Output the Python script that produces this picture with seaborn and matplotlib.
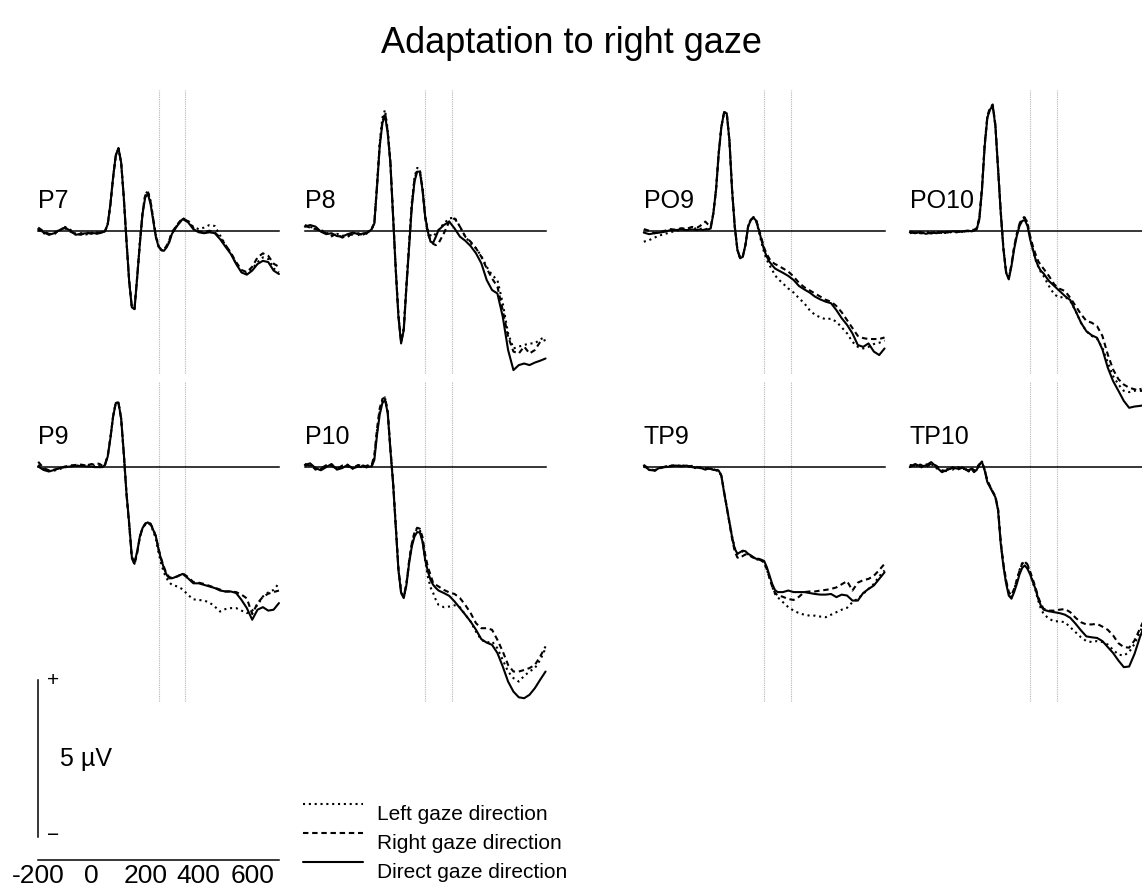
import numpy as np
import pandas as pd
import matplotlib
matplotlib.use("Agg")
import matplotlib.pyplot as plt
import matplotlib.transforms as mtransforms
from matplotlib.lines import Line2D
import seaborn as sns

# --- data: grand-average ERPs (µV) ---
times = [-200, -180, -160, -140, -120, -100, -80, -60, -40, -20, 0,
         10, 20, 30, 40, 50, 60, 70, 80, 90, 100,
         110, 120, 130, 140, 150, 160, 170, 180, 190, 200,
         210, 220, 230, 240, 250, 260, 270, 280, 290, 300,
         320, 340, 360, 380, 400, 420, 440, 460, 480, 500,
         520, 540, 560, 580, 600, 620, 640, 660, 680, 700]

conditions = ["Left gaze direction", "Right gaze direction", "Direct gaze direction"]
window_ms = [250, 350]

p7_left = [0.02, -0.08, -0.12, -0.05, 0.00, 0.12, 0.03, -0.10, -0.08, -0.12, -0.06,
           -0.10, -0.05, -0.10, -0.04, -0.03, 0.22, 0.86, 1.70, 2.40, 2.62,
           2.16, 1.04, -0.34, -1.60, -2.43, -2.49, -1.47, -0.38, 0.58, 1.15,
           1.27, 0.95, 0.38, -0.15, -0.48, -0.62, -0.63, -0.50, -0.32, -0.06,
           0.18, 0.40, 0.32, 0.12, 0.05, 0.10, 0.18, 0.15, -0.15, -0.45,
           -0.72, -1.05, -1.30, -1.36, -1.22, -1.00, -0.85, -0.90, -1.20, -1.33]
p7_right = [0.10, -0.02, -0.10, -0.12, 0.05, 0.08, -0.03, -0.10, -0.13, -0.05, -0.10,
            -0.06, -0.10, -0.05, -0.08, 0.00, 0.20, 0.83, 1.68, 2.38, 2.62,
            2.18, 1.06, -0.30, -1.58, -2.42, -2.48, -1.48, -0.40, 0.56, 1.12,
            1.25, 0.92, 0.38, -0.18, -0.50, -0.60, -0.60, -0.48, -0.30, -0.05,
            0.20, 0.40, 0.30, 0.08, -0.02, -0.05, 0.00, -0.05, -0.22, -0.45,
            -0.70, -1.00, -1.25, -1.32, -1.15, -0.85, -0.72, -0.80, -1.05, -1.15]
p7_direct = [0.05, -0.05, -0.13, -0.08, 0.02, 0.10, 0.00, -0.13, -0.10, -0.08, -0.08,
             -0.08, -0.08, -0.08, -0.05, -0.02, 0.21, 0.85, 1.70, 2.40, 2.63,
             2.18, 1.06, -0.32, -1.60, -2.44, -2.50, -1.49, -0.42, 0.53, 1.06,
             1.17, 0.85, 0.32, -0.21, -0.51, -0.62, -0.64, -0.53, -0.37, -0.10,
             0.16, 0.37, 0.27, 0.05, -0.05, -0.08, -0.05, -0.08, -0.27, -0.51,
             -0.74, -1.06, -1.33, -1.40, -1.27, -1.06, -0.96, -1.00, -1.27, -1.38]

p8_left = [0.18, 0.12, 0.08, 0.02, -0.05, -0.18, -0.10, -0.15, -0.20, -0.08, -0.14,
           -0.08, -0.12, -0.06, -0.02, 0.04, 0.26, 1.48, 2.80, 3.60, 3.85,
           3.20, 2.20, 0.50, -1.20, -2.68, -3.52, -3.10, -1.70, -0.40, 0.90,
           1.70, 2.00, 1.95, 1.38, 0.48, 0.02, -0.15, -0.19, -0.08, 0.02,
           0.23, 0.39, 0.42, 0.13, -0.19, -0.40, -0.56, -0.81, -1.15, -1.41,
           -1.57, -2.31, -3.27, -3.75, -3.69, -3.64, -3.59, -3.59, -3.46, -3.38]
p8_right = [0.15, 0.10, 0.05, 0.00, -0.08, -0.15, -0.12, -0.22, -0.15, -0.12, -0.08,
            -0.12, -0.05, -0.10, 0.00, 0.06, 0.25, 1.45, 2.72, 3.48, 3.74,
            3.15, 2.18, 0.48, -1.22, -2.70, -3.55, -3.12, -1.74, -0.46, 0.82,
            1.62, 1.93, 1.90, 1.35, 0.42, -0.10, -0.30, -0.42, -0.46, -0.40,
            -0.08, 0.29, 0.39, 0.13, -0.19, -0.35, -0.56, -0.83, -1.20, -1.52,
            -1.78, -2.53, -3.38, -3.85, -3.91, -3.69, -3.91, -3.80, -3.54, -3.48]
p8_direct = [0.13, 0.18, 0.13, -0.03, -0.11, -0.08, -0.17, -0.19, -0.11, -0.06, -0.11,
             -0.11, -0.08, -0.08, -0.03, 0.05, 0.23, 1.40, 2.68, 3.42, 3.68,
             3.10, 2.14, 0.45, -1.25, -2.74, -3.59, -3.16, -1.78, -0.51, 0.76,
             1.56, 1.88, 1.88, 1.30, 0.45, -0.03, -0.35, -0.38, -0.19, 0.02,
             0.18, 0.29, 0.07, -0.19, -0.32, -0.49, -0.72, -1.04, -1.57, -1.89,
             -2.00, -2.74, -3.80, -4.44, -4.28, -4.23, -4.28, -4.20, -4.14, -4.07]

po9_left = [-0.35, -0.30, -0.22, -0.15, -0.10, -0.05, 0.00, 0.02, 0.06, 0.05, 0.08,
            0.05, 0.08, 0.05, 0.06, 0.08, 0.56, 1.32, 2.48, 3.33, 3.78,
            3.75, 2.90, 1.32, 0.14, -0.61, -0.87, -0.82, -0.45, 0.14, 0.36,
            0.43, 0.32, -0.02, -0.38, -0.70, -0.93, -1.10, -1.25, -1.41, -1.52,
            -1.68, -1.84, -1.97, -2.15, -2.31, -2.53, -2.68, -2.76, -2.82, -2.80,
            -2.90, -3.08, -3.27, -3.54, -3.70, -3.75, -3.70, -3.61, -3.57, -3.50]
po9_right = [0.05, 0.00, -0.08, -0.04, 0.00, 0.05, 0.03, 0.08, 0.06, 0.12, 0.10,
             0.15, 0.22, 0.29, 0.20, 0.12, 0.55, 1.30, 2.45, 3.30, 3.76,
             3.74, 2.88, 1.30, 0.15, -0.60, -0.86, -0.82, -0.45, 0.14, 0.35,
             0.43, 0.35, 0.05, -0.25, -0.55, -0.75, -0.90, -1.00, -1.06, -1.10,
             -1.20, -1.30, -1.46, -1.66, -1.80, -1.90, -2.00, -2.10, -2.20, -2.26,
             -2.40, -2.60, -2.85, -3.10, -3.35, -3.42, -3.45, -3.45, -3.45, -3.40]
po9_direct = [-0.06, -0.11, -0.08, -0.06, -0.03, 0.02, 0.02, 0.04, 0.02, 0.04, 0.02,
              0.04, 0.02, 0.04, 0.04, 0.07, 0.55, 1.30, 2.46, 3.31, 3.76,
              3.74, 2.89, 1.30, 0.13, -0.62, -0.88, -0.83, -0.46, 0.13, 0.34,
              0.41, 0.32, 0.02, -0.30, -0.62, -0.83, -0.99, -1.10, -1.20, -1.25,
              -1.34, -1.44, -1.57, -1.76, -1.87, -1.97, -2.10, -2.19, -2.26, -2.31,
              -2.53, -2.79, -3.00, -3.27, -3.64, -3.70, -3.59, -3.85, -3.96, -3.75]

po10_left = [-0.08, -0.04, -0.09, -0.06, -0.03, -0.07, -0.05, -0.08, -0.03, -0.06, -0.03,
             -0.04, 0.02, -0.03, 0.02, 0.05, 0.38, 1.35, 2.72, 3.62, 3.88,
             3.98, 3.34, 1.96, 0.58, -0.58, -1.32, -1.52, -1.10, -0.55, -0.12,
             0.20, 0.38, 0.45, 0.25, -0.22, -0.62, -0.92, -1.13, -1.32, -1.44,
             -1.76, -2.03, -2.13, -2.10, -2.24, -2.56, -2.93, -3.20, -3.35, -3.44,
             -3.73, -4.20, -4.63, -4.90, -5.10, -5.14, -5.10, -5.05, -5.00, -5.00]
po10_right = [-0.03, -0.06, -0.08, -0.05, -0.09, -0.04, -0.07, -0.03, -0.05, -0.02, -0.04,
              0.00, -0.02, 0.02, 0.03, 0.08, 0.42, 1.40, 2.78, 3.66, 3.92,
              4.02, 3.38, 2.00, 0.62, -0.55, -1.30, -1.50, -1.08, -0.52, -0.10,
              0.22, 0.38, 0.42, 0.22, -0.18, -0.49, -0.75, -0.97, -1.10, -1.21,
              -1.44, -1.71, -1.85, -1.92, -2.14, -2.40, -2.66, -2.87, -2.93, -3.04,
              -3.35, -3.94, -4.42, -4.73, -4.90, -5.00, -5.05, -5.10, -5.10, -5.10]
po10_direct = [-0.05, -0.08, -0.04, -0.10, -0.06, -0.08, -0.04, -0.06, -0.02, -0.04, -0.02,
               -0.02, 0.00, -0.02, 0.00, 0.04, 0.36, 1.32, 2.70, 3.60, 3.86,
               3.97, 3.33, 1.95, 0.57, -0.59, -1.34, -1.55, -1.13, -0.59, -0.17,
               0.15, 0.31, 0.34, 0.15, -0.28, -0.59, -0.91, -1.13, -1.28, -1.36,
               -1.60, -1.76, -1.92, -2.08, -2.21, -2.56, -2.93, -3.20, -3.33, -3.41,
               -3.78, -4.36, -4.79, -5.10, -5.42, -5.64, -5.60, -5.58, -5.55, -5.50]

p9_left = [0.05, -0.08, -0.14, -0.13, -0.08, -0.03, 0.02, 0.04, 0.00, 0.06, 0.04,
           0.00, 0.06, 0.02, 0.05, 0.06, 0.33, 0.91, 1.60, 2.03, 2.03,
           1.53, 0.41, -0.86, -1.82, -2.90, -3.10, -2.72, -2.24, -1.97, -1.85,
           -1.80, -1.86, -2.06, -2.30, -2.75, -3.10, -3.38, -3.56, -3.69, -3.77,
           -3.82, -3.91, -4.09, -4.23, -4.25, -4.27, -4.33, -4.46, -4.62, -4.54,
           -4.51, -4.51, -4.59, -4.67, -4.59, -4.41, -4.14, -4.01, -3.93, -3.72]
p9_right = [0.15, -0.05, -0.12, -0.10, -0.06, 0.00, 0.03, 0.05, 0.06, 0.03, 0.08,
            0.05, 0.10, 0.08, 0.02, 0.08, 0.35, 0.92, 1.60, 2.02, 2.02,
            1.52, 0.40, -0.88, -1.85, -2.92, -3.12, -2.75, -2.25, -1.96, -1.82,
            -1.76, -1.82, -2.00, -2.22, -2.62, -2.94, -3.20, -3.42, -3.52, -3.55,
            -3.50, -3.40, -3.52, -3.68, -3.70, -3.74, -3.80, -3.86, -3.92, -3.98,
            -3.98, -4.00, -4.08, -4.20, -4.70, -4.35, -4.15, -4.05, -4.00, -3.95]
p9_direct = [0.00, -0.11, -0.16, -0.11, -0.05, -0.02, 0.00, 0.02, 0.02, 0.00, 0.00,
             -0.02, -0.02, -0.02, -0.02, 0.05, 0.32, 0.90, 1.59, 2.02, 2.04,
             1.54, 0.42, -0.85, -1.80, -2.87, -3.06, -2.71, -2.23, -1.96, -1.83,
             -1.78, -1.83, -2.02, -2.23, -2.65, -2.97, -3.24, -3.45, -3.56, -3.56,
             -3.50, -3.42, -3.56, -3.72, -3.72, -3.77, -3.82, -3.87, -3.95, -3.98,
             -3.98, -4.03, -4.25, -4.51, -4.88, -4.56, -4.48, -4.59, -4.56, -4.35]

p10_left = [0.02, 0.06, -0.10, -0.08, 0.02, 0.05, -0.06, -0.02, 0.06, -0.08, 0.02,
            0.00, 0.04, -0.02, 0.03, 0.02, 0.28, 1.10, 1.75, 2.10, 2.18,
            1.72, 0.55, -0.52, -1.90, -3.28, -4.00, -4.17, -3.75, -3.05, -2.48,
            -2.12, -1.98, -2.02, -2.35, -3.00, -3.50, -3.85, -4.03, -4.25, -4.41,
            -4.48, -4.46, -4.42, -4.48, -4.72, -4.94, -5.26, -5.52, -5.61, -5.57,
            -5.79, -6.16, -6.53, -6.74, -6.85, -6.67, -6.53, -6.42, -6.16, -5.79]
p10_right = [0.08, 0.02, -0.08, -0.06, 0.04, 0.02, -0.08, 0.03, 0.00, -0.04, 0.05,
             0.02, -0.02, 0.02, 0.05, 0.05, 0.35, 1.20, 1.85, 2.15, 2.20,
             1.75, 0.58, -0.50, -1.88, -3.25, -3.98, -4.15, -3.72, -3.00, -2.45,
             -2.10, -1.95, -1.98, -2.25, -2.80, -3.20, -3.45, -3.72, -3.77, -3.82,
             -3.93, -4.01, -4.06, -4.19, -4.41, -4.67, -4.99, -5.15, -5.15, -5.20,
             -5.52, -5.89, -6.32, -6.53, -6.53, -6.48, -6.42, -6.32, -6.05, -5.73]
p10_direct = [0.05, 0.10, -0.05, -0.12, -0.02, 0.08, -0.10, -0.05, 0.05, -0.06, 0.00,
              -0.02, 0.03, -0.03, 0.00, 0.00, 0.21, 1.01, 1.65, 2.02, 2.12,
              1.70, 0.53, -0.53, -1.91, -3.29, -4.03, -4.19, -3.77, -3.08, -2.55,
              -2.23, -2.09, -2.10, -2.39, -2.97, -3.34, -3.61, -3.77, -3.87, -3.95,
              -4.03, -4.12, -4.30, -4.51, -4.72, -4.94, -5.20, -5.50, -5.61, -5.68,
              -5.94, -6.37, -6.85, -7.17, -7.35, -7.38, -7.27, -7.06, -6.79, -6.53]

tp9_left = [0.00, -0.10, -0.14, -0.05, 0.00, 0.03, 0.01, 0.04, 0.02, -0.03, -0.06,
            -0.04, -0.08, -0.06, -0.09, -0.06, -0.10, -0.13, -0.12, -0.31, -0.80,
            -1.28, -1.75, -2.22, -2.60, -2.78, -2.75, -2.70, -2.72, -2.80, -2.85,
            -2.91, -2.96, -2.97, -3.00, -3.05, -3.28, -3.55, -3.82, -4.05, -4.16,
            -4.32, -4.48, -4.59, -4.67, -4.72, -4.75, -4.75, -4.78, -4.80, -4.72,
            -4.64, -4.56, -4.50, -4.32, -4.21, -4.06, -3.90, -3.74, -3.50, -3.31]
tp9_right = [0.05, -0.08, -0.12, -0.06, 0.00, 0.02, 0.05, 0.02, 0.00, 0.02, -0.02,
             -0.05, -0.04, -0.08, -0.05, -0.10, -0.08, -0.12, -0.10, -0.30, -0.80,
             -1.28, -1.80, -2.30, -2.70, -2.90, -2.92, -2.85, -2.80, -2.82, -2.86,
             -2.90, -2.95, -2.96, -3.00, -3.05, -3.28, -3.55, -3.82, -4.02, -4.10,
             -4.15, -4.22, -4.25, -4.15, -4.00, -3.98, -3.98, -3.95, -3.93, -3.90,
             -3.85, -3.75, -3.65, -3.95, -3.70, -3.62, -3.58, -3.48, -3.30, -3.10]
tp9_direct = [0.03, -0.11, -0.13, -0.04, -0.02, 0.00, 0.03, 0.00, 0.03, -0.02, -0.04,
              -0.02, -0.07, -0.10, -0.07, -0.08, -0.11, -0.11, -0.13, -0.29, -0.82,
              -1.30, -1.77, -2.25, -2.62, -2.78, -2.73, -2.68, -2.70, -2.78, -2.83,
              -2.89, -2.94, -2.94, -2.97, -3.01, -3.21, -3.47, -3.74, -3.93, -4.00,
              -4.00, -3.95, -4.00, -4.00, -4.00, -4.03, -4.06, -4.08, -4.08, -4.06,
              -4.16, -4.08, -4.11, -4.27, -4.27, -4.03, -3.90, -3.79, -3.58, -3.37]

tp10_left = [0.02, 0.05, -0.04, 0.06, 0.08, -0.06, -0.14, -0.08, -0.10, -0.02, -0.08,
             -0.05, -0.10, -0.12, -0.15, -0.06, 0.10, 0.16, -0.08, -0.48, -0.64,
             -0.80, -0.96, -1.38, -2.42, -3.15, -3.68, -4.06, -4.15, -3.92, -3.62,
             -3.30, -3.08, -3.02, -3.15, -3.40, -3.70, -3.95, -4.27, -4.53, -4.69,
             -4.85, -4.93, -4.93, -4.96, -5.12, -5.28, -5.44, -5.56, -5.59, -5.56,
             -5.59, -5.67, -5.84, -5.99, -6.02, -5.91, -5.65, -5.28, -4.90, -4.50]
tp10_right = [0.05, 0.02, 0.06, -0.04, 0.10, 0.02, -0.12, -0.15, -0.02, -0.10, 0.00,
              -0.08, -0.16, -0.04, -0.12, -0.14, 0.05, 0.12, -0.10, -0.45, -0.62,
              -0.80, -0.95, -1.35, -2.40, -3.10, -3.62, -4.00, -4.10, -3.90, -3.62,
              -3.32, -3.10, -3.02, -3.12, -3.35, -3.60, -3.85, -4.16, -4.37, -4.53,
              -4.59, -4.59, -4.56, -4.54, -4.64, -4.82, -4.96, -5.03, -5.03, -5.01,
              -5.10, -5.20, -5.38, -5.63, -5.75, -5.77, -5.54, -5.17, -4.80, -4.40]
tp10_direct = [-0.02, 0.08, 0.00, 0.03, 0.14, -0.02, -0.18, -0.11, -0.04, -0.07, -0.04,
               -0.11, -0.13, -0.07, -0.18, -0.11, 0.08, 0.14, -0.13, -0.50, -0.66,
               -0.82, -0.98, -1.40, -2.46, -3.18, -3.72, -4.11, -4.21, -4.00, -3.74,
               -3.44, -3.23, -3.15, -3.26, -3.44, -3.68, -3.90, -4.21, -4.43, -4.56,
               -4.61, -4.64, -4.67, -4.72, -4.82, -5.01, -5.22, -5.41, -5.44, -5.46,
               -5.56, -5.75, -5.94, -6.18, -6.39, -6.37, -5.97, -5.44, -5.00, -4.60]

# panel grid: (row, col) -> channel
panels = [
    ("P7", 0, 0, p7_left, p7_right, p7_direct),
    ("P8", 0, 1, p8_left, p8_right, p8_direct),
    ("PO9", 0, 2, po9_left, po9_right, po9_direct),
    ("PO10", 0, 3, po10_left, po10_right, po10_direct),
    ("P9", 1, 0, p9_left, p9_right, p9_direct),
    ("P10", 1, 1, p10_left, p10_right, p10_direct),
    ("TP9", 1, 2, tp9_left, tp9_right, tp9_direct),
    ("TP10", 1, 3, tp10_left, tp10_right, tp10_direct),
]

# --- layout (pixels) ---
W, H = 1142, 890
PX_PER_UV = 31.4
col_left = [38.2, 304.8, 643.8, 909.8]   # x pixel of -200 ms
panel_w = 240.75                          # -200 .. 700 ms
rows = [(90, 373, 230.7), (382, 701, 466.5)]  # top, bottom, zero line

dash_map = {"Left gaze direction": (1, 1.8),
            "Right gaze direction": (2.6, 1.8),
            "Direct gaze direction": ""}

sns.set_style("white")
plt.rcParams["font.family"] = ["Liberation Sans", "DejaVu Sans"]
plt.rcParams["text.color"] = "black"
plt.rcParams["xtick.color"] = "black"
plt.rcParams["axes.labelcolor"] = "black"

fig = plt.figure(figsize=(W / 100, H / 100), dpi=100)


def px_axes(x0, top, w, bottom):
    return fig.add_axes([x0 / W, 1 - bottom / H, w / W, (bottom - top) / H])


for name, r, c, left, right, direct in panels:
    top, bottom, zero = rows[r]
    ax = px_axes(col_left[c], top, panel_w, bottom)
    ax.patch.set_alpha(0)
    d = pd.DataFrame({
        "time": times * 3,
        "uv": left + right + direct,
        "condition": [conditions[0]] * len(times) + [conditions[1]] * len(times)
                     + [conditions[2]] * len(times),
    })
    for x in window_ms:
        ax.axvline(x, color="#b5b5b5", lw=0.8, ls=(0, (1, 1)), zorder=0)
    sns.lineplot(data=d, x="time", y="uv", style="condition", style_order=conditions,
                 dashes=dash_map, color="black", linewidth=1.5, legend=False,
                 errorbar=None, estimator=None, ax=ax)
    for ln in ax.lines:
        ln.set_clip_on(False)
    ax.set_xlim(-200, 700)
    ax.set_ylim(-(bottom - zero) / PX_PER_UV, (zero - top) / PX_PER_UV)
    ax.set_xlabel("")
    ax.set_ylabel("")
    for s in ["top", "right", "left"]:
        ax.spines[s].set_visible(False)
    ax.spines["bottom"].set_position(("data", 0))
    ax.spines["bottom"].set_linewidth(1.1)
    ax.spines["bottom"].set_color("black")
    ax.set_xticks([-100, 0, 100, 200, 300, 400, 500, 600, 700])
    ax.tick_params(axis="x", direction="in", length=3, width=0.9, labelbottom=False)
    ax.set_yticks([])
    lab_tr = mtransforms.offset_copy(ax.transData, fig=fig, x=0, y=23, units="dots")
    ax.text(-200, 0, name, transform=lab_tr, fontsize=18, ha="left", va="baseline")

# scale bar axes
ax_s = px_axes(38.2, 679, panel_w, 860)
ax_s.patch.set_alpha(0)
ax_s.set_xlim(-200, 700)
ax_s.set_ylim(-(860 - 837) / PX_PER_UV, (837 - 679) / PX_PER_UV)
for s in ["top", "right"]:
    ax_s.spines[s].set_visible(False)
ax_s.spines["left"].set_bounds(0, 5)
for s in ["left", "bottom"]:
    ax_s.spines[s].set_linewidth(1.1)
    ax_s.spines[s].set_color("black")
ax_s.set_yticks([])
ax_s.set_xticks([-200, 0, 200, 400, 600])
ax_s.set_xticklabels(["-200", "0", "200", "400", "600"])
ax_s.set_xticks([-100, 100, 300, 500, 700], minor=True)
ax_s.tick_params(axis="x", which="both", direction="in", length=3, width=0.9,
                 labelsize=19, pad=3)
ax_s.text(-145, 5.0, "+", fontsize=15, ha="center", va="center")
ax_s.text(-145, 0.06, "\u2212", fontsize=15, ha="center", va="center")
ax_s.text(-118, 2.48, "5 µV", fontsize=18, ha="left", va="center")

# legend
handles = [Line2D([], [], color="black", lw=1.5, dashes=dash_map[c]) if dash_map[c]
           else Line2D([], [], color="black", lw=1.5) for c in conditions]
leg = fig.legend(handles, conditions, loc="upper left",
                 bbox_to_anchor=(303 / W, 1 - 805 / H), frameon=False, fontsize=15,
                 handlelength=2.9, handletextpad=0.65, labelspacing=0.48,
                 borderpad=0, borderaxespad=0)
# handle lines sit a little above their labels in the original
for ln in leg.get_lines():
    ln.set_ydata(np.asarray(ln.get_ydata()) + 6.5)

fig.text(0.5, 1 - 53 / H, "Adaptation to right gaze", fontsize=26,
         ha="center", va="baseline")

fig.savefig("out.png", dpi=100)
